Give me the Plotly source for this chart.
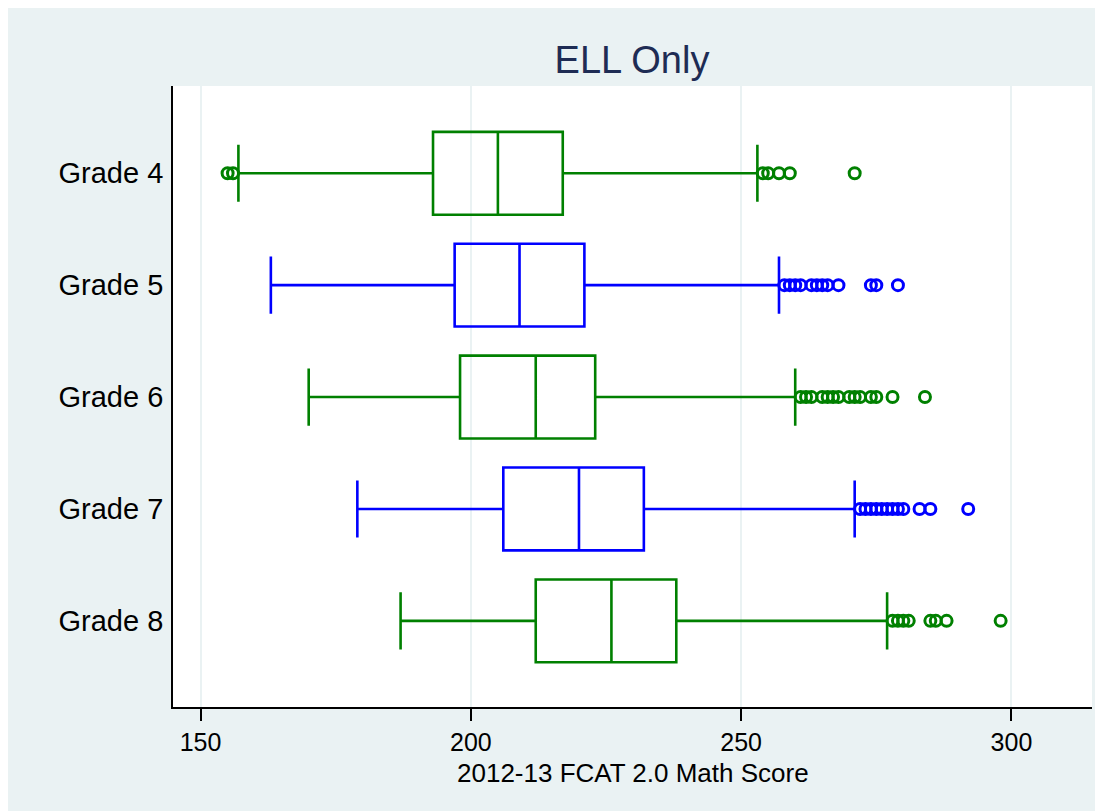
import plotly.graph_objects as go

grades = ["Grade 4", "Grade 5", "Grade 6", "Grade 7", "Grade 8"]
lower_whisker = [157, 163, 170, 179, 187]
q1 = [193, 197, 198, 206, 212]
median = [205, 209, 212, 220, 226]
q3 = [217, 221, 223, 232, 238]
upper_whisker = [253, 257, 260, 271, 277]
outliers = [
    [155, 156, 254, 255, 257, 259, 271],
    [258, 259, 260, 261, 263, 264, 265, 266, 268, 274, 275, 279],
    [261, 262, 263, 265, 266, 267, 268, 270, 271, 272, 274, 275, 278, 284],
    [272, 273, 274, 275, 276, 277, 278, 279, 280, 283, 285, 292],
    [278, 279, 280, 281, 285, 286, 288, 298],
]
colors = ["#008000", "#0000ff", "#008000", "#0000ff", "#008000"]
x_ticks = [150, 200, 250, 300]

BG = "#eaf2f3"
FONT = "Liberation Sans, Arial, sans-serif"

fig = go.Figure()
for i, g in enumerate(grades):
    fig.add_trace(go.Box(
        y=[g], q1=[q1[i]], median=[median[i]], q3=[q3[i]],
        lowerfence=[lower_whisker[i]], upperfence=[upper_whisker[i]],
        orientation="h", boxpoints=False,
        line=dict(color=colors[i], width=2.6),
        fillcolor="rgba(0,0,0,0)",
        width=0.74, whiskerwidth=0.69,
        showlegend=False, hoverinfo="skip",
    ))
    fig.add_trace(go.Scatter(
        x=outliers[i], y=[g] * len(outliers[i]), mode="markers",
        marker=dict(symbol="circle-open", size=11, color=colors[i],
                    line=dict(width=3, color=colors[i])),
        showlegend=False, hoverinfo="skip",
    ))

fig.update_layout(
    width=1103, height=811,
    margin=dict(l=165, r=19, t=78, b=112),
    paper_bgcolor=BG, plot_bgcolor="white",
    boxmode="overlay",
    font=dict(family=FONT, color="black"),
    title=dict(text="ELL Only", x=(624 - 165) / 919 * (919 / 1103) + 165 / 1103,
               xanchor="center", y=0.936, yanchor="middle",
               font=dict(size=38, color="#1e2c54", family=FONT)),
    xaxis=dict(
        range=[144.9, 314.9], tickvals=x_ticks, ticks="outside", ticklen=12,
        tickcolor="black", tickwidth=1.5,
        showline=True, linecolor="black", linewidth=1.8,
        showgrid=True, gridcolor=BG, gridwidth=2, zeroline=False,
        tickfont=dict(size=25), ticklabelstandoff=0,
    ),
    yaxis=dict(
        type="category", categoryorder="array", categoryarray=grades,
        range=[4.77, -0.78], showline=True, linecolor="black", linewidth=1.8,
        showgrid=False, zeroline=False, ticks="",
        tickfont=dict(size=29), ticklabelstandoff=2,
    ),
    annotations=[dict(text="2012-13 FCAT 2.0 Math Score", xref="paper", yref="paper",
                      x=0.5, y=-66 / 621, xanchor="center", yanchor="middle",
                      showarrow=False, font=dict(size=26, color="black"))],
)

fig.write_html("out.html")
